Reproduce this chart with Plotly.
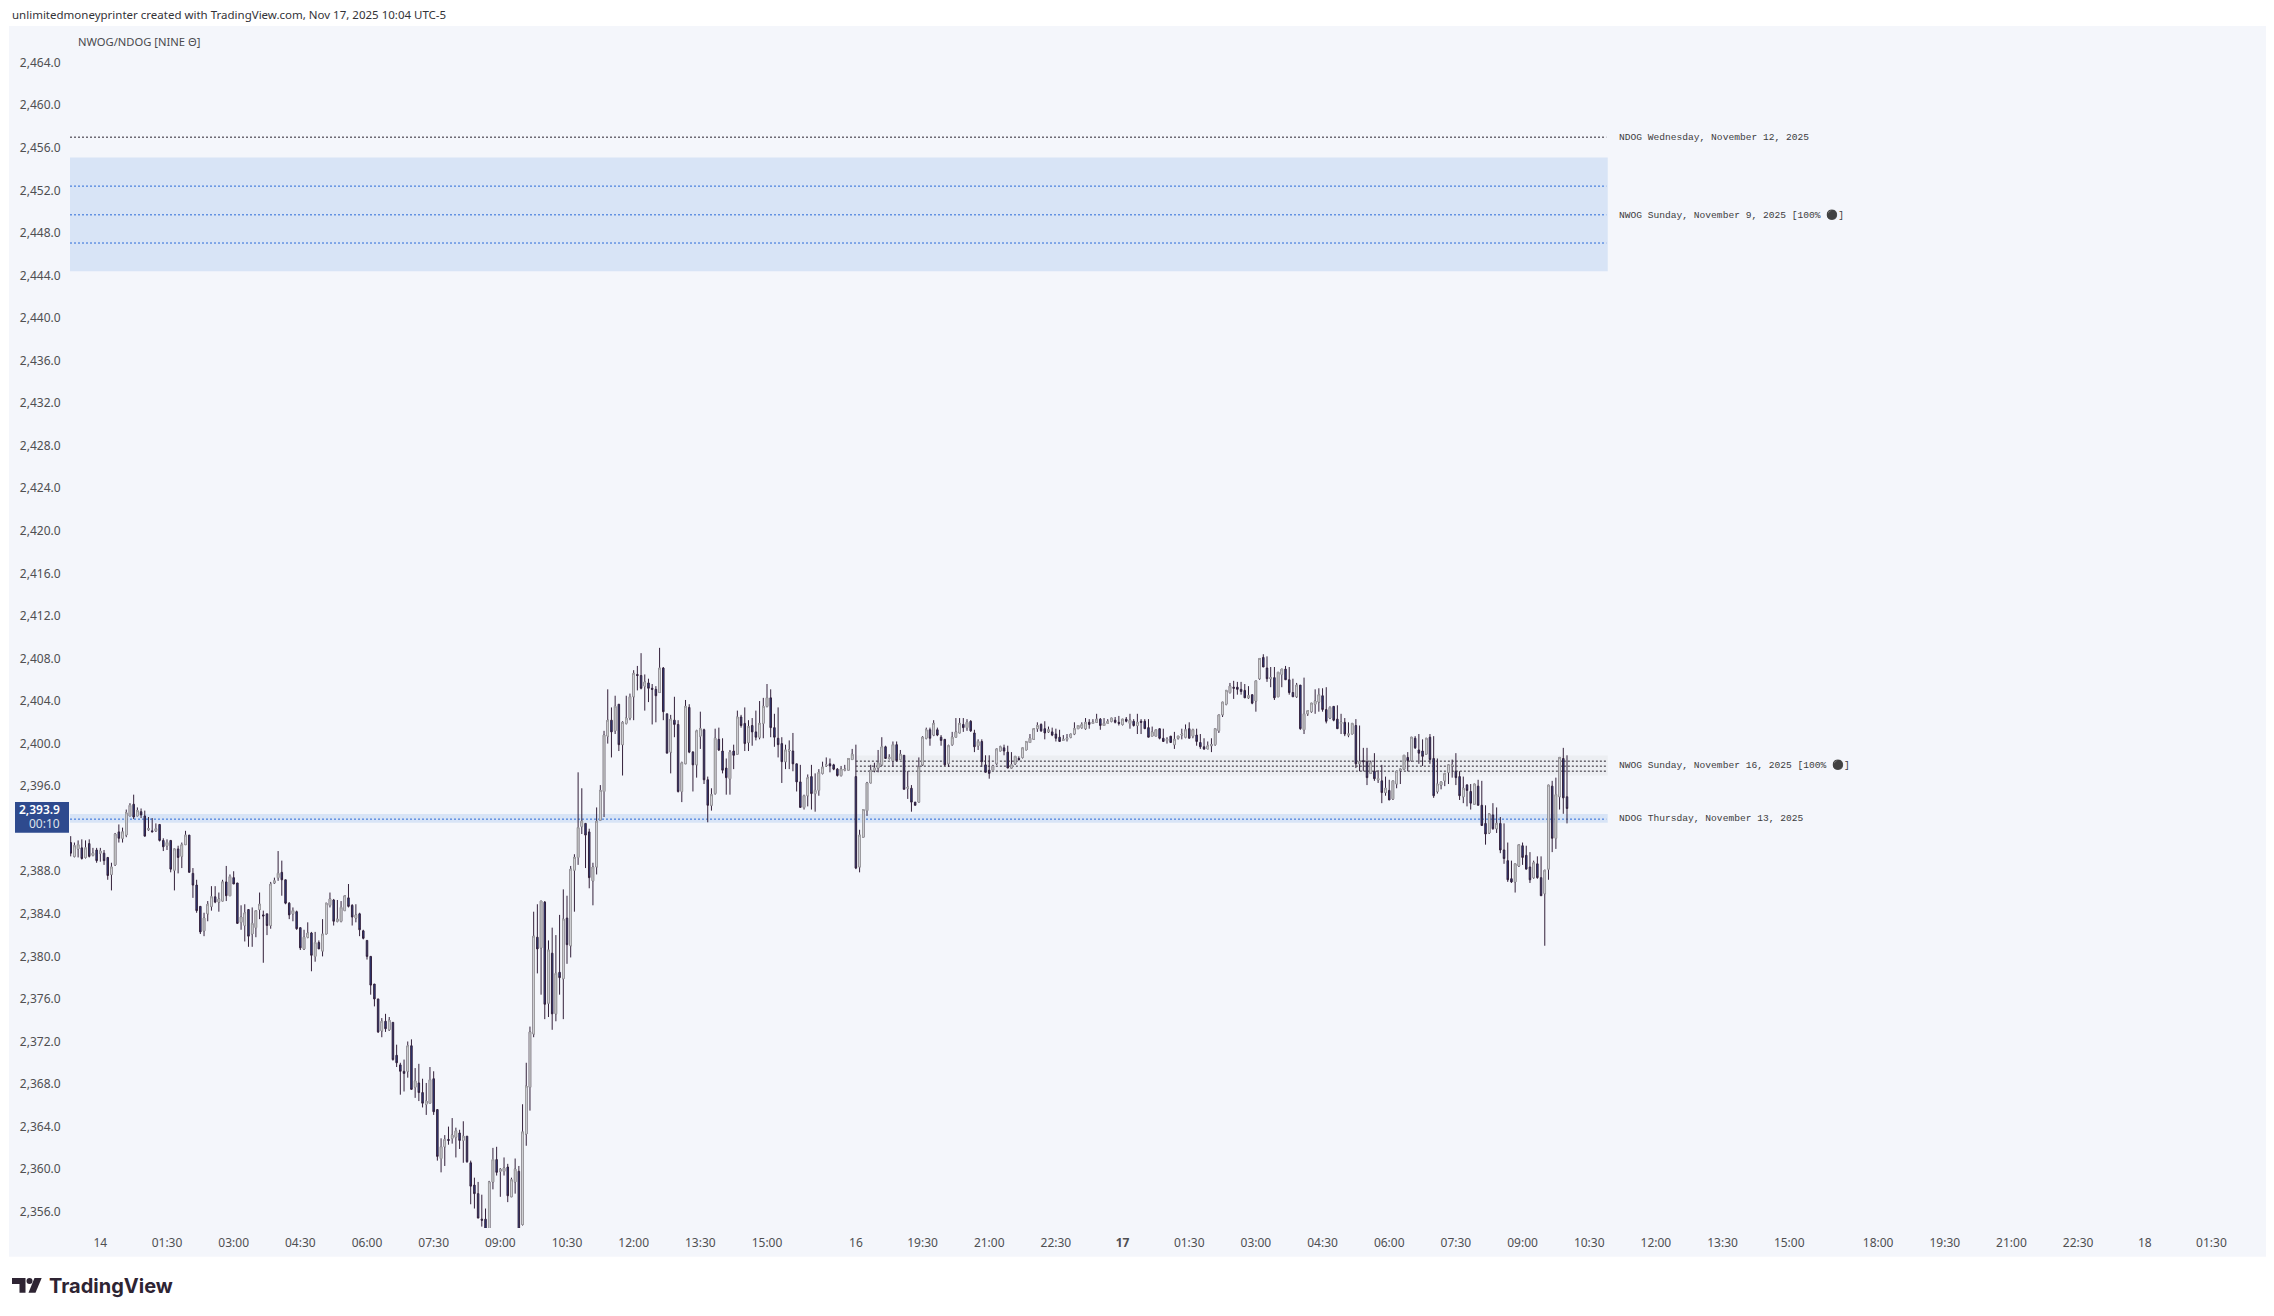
import plotly.graph_objects as go

# Five-minute session bars, Nov 13 late evening through Nov 17 10:00 (UTC-5)
opens = [
2390.7,2389.4,2390.1,2390.2,2389.3,2390.6,2389.5,2390.0,2389.7,2389.7,
2389.3,2387.7,2388.6,2391.7,2391.1,2391.4,2393.2,2394.3,2393.2,2393.6,
2393.2,2391.9,2391.8,2391.8,2392.4,2390.9,2390.4,2390.9,2388.1,2390.1,
2389.4,2390.5,2391.4,2387.8,2386.7,2384.7,2382.4,2384.0,2384.7,2385.6,
2385.1,2385.2,2387.0,2385.7,2387.4,2386.9,2383.2,2382.9,2384.4,2382.1,
2382.7,2384.4,2383.9,2384.0,2382.9,2386.9,2387.4,2387.9,2387.2,2385.0,
2384.0,2384.2,2382.7,2380.7,2381.8,2382.2,2380.0,2381.3,2380.5,2382.1,
2384.8,2385.3,2383.3,2383.3,2384.3,2385.5,2384.8,2383.6,2384.0,2382.4,
2381.5,2380.0,2377.4,2376.0,2373.0,2373.9,2373.1,2373.8,2370.7,2369.8,
2369.2,2369.2,2371.6,2367.7,2368.1,2367.2,2366.1,2366.2,2368.5,2365.6,
2361.0,2362.1,2362.8,2362.9,2363.0,2363.4,2362.7,2363.1,2360.6,2358.5,
2357.7,2355.3,2355.3,2354.3,2358.8,2360.9,2359.8,2359.8,2360.2,2357.4,
2358.8,2359.8,2354.8,2363.3,2367.7,2372.7,2381.8,2380.8,2385.1,2375.6,
2380.3,2374.6,2378.5,2377.9,2383.6,2381.0,2388.1,2389.3,2392.2,2392.5,
2391.7,2387.1,2388.4,2392.8,2395.5,2400.7,2402.2,2401.2,2403.7,2399.9,
2401.9,2402.4,2404.4,2406.5,2406.4,2405.4,2405.7,2405.2,2405.1,2404.8,
2407.1,2402.8,2399.2,2402.2,2401.8,2395.5,2398.1,2403.4,2399.2,2398.0,
2400.7,2401.3,2396.6,2394.2,2395.3,2400.4,2399.3,2397.7,2396.7,2399.3,
2399.0,2402.5,2401.9,2400.1,2401.7,2401.1,2400.6,2401.9,2403.5,2404.3,
2401.5,2400.5,2400.0,2398.3,2399.3,2399.3,2398.1,2396.4,2394.0,2395.1,
2396.9,2395.3,2395.6,2397.2,2397.9,2398.1,2398.0,2397.6,2397.0,2397.5,
2397.5,2398.5,2396.9,2388.4,2391.2,2393.7,2396.3,2397.5,2397.7,2398.0,
2399.7,2398.6,2398.4,2399.9,2398.5,2398.9,2395.8,2395.8,2394.5,2394.5,
2398.0,2400.5,2401.3,2400.8,2401.3,2400.6,2400.4,2398.1,2399.9,2400.6,
2401.0,2401.8,2401.5,2402.1,2401.0,2399.8,2400.2,2398.0,2397.5,2397.5,
2398.1,2399.3,2399.6,2399.2,2397.7,2398.1,2398.6,2398.7,2399.4,2400.1,
2400.4,2401.4,2401.8,2401.4,2401.1,2401.1,2400.9,2400.6,2400.3,2400.4,
2400.6,2400.9,2401.4,2401.5,2401.4,2402.0,2401.9,2402.0,2402.3,2401.7,
2401.9,2402.1,2402.2,2402.0,2401.8,2402.3,2401.9,2402.1,2401.7,2402.1,
2402.1,2401.5,2400.7,2400.7,2401.4,2400.5,2400.3,2400.7,2399.9,2400.5,
2400.8,2400.6,2401.4,2400.7,2400.8,2400.1,2399.7,2399.5,2399.8,2399.9,
2401.2,2402.7,2403.7,2404.8,2405.3,2405.3,2405.1,2405.0,2404.3,2404.6,
2404.0,2406.1,2408.1,2407.1,2406.1,2406.2,2404.4,2406.5,2407.0,2406.0,
2404.8,2404.4,2405.5,2401.3,2402.8,2403.0,2403.7,2403.9,2404.5,2403.2,
2402.4,2403.5,2402.3,2401.9,2402.0,2400.8,2400.9,2401.7,2398.1,2398.4,
2398.3,2397.2,2397.4,2396.6,2396.5,2395.4,2395.6,2394.8,2396.2,2397.5,
2397.6,2398.7,2398.4,2400.5,2399.4,2399.3,2399.0,2400.6,2398.6,2395.5,
2396.1,2396.5,2397.3,2397.9,2397.4,2396.9,2395.0,2396.1,2395.5,2394.3,
2396.0,2394.2,2392.5,2391.6,2393.3,2392.0,2392.5,2390.0,2389.0,2387.3,
2387.0,2388.5,2390.4,2389.5,2388.4,2387.4,2388.7,2387.4,2385.9,2388.2,
2396.0,2391.1,2395.0,2398.6,2395.0,
]
highs = [
2391.3,2390.7,2390.9,2391.0,2390.9,2391.0,2390.2,2390.2,2390.2,2390.0,
2389.3,2388.8,2391.6,2392.4,2392.1,2393.8,2394.4,2395.2,2394.0,2393.9,
2393.7,2393.1,2393.0,2392.5,2392.4,2391.1,2391.0,2390.9,2390.1,2390.4,
2390.7,2391.8,2391.4,2388.3,2387.2,2384.7,2384.1,2385.2,2386.6,2386.6,
2386.0,2387.2,2388.5,2387.7,2388.0,2386.9,2384.8,2384.9,2384.4,2384.6,
2384.3,2386.0,2384.3,2384.0,2387.0,2387.4,2389.9,2389.0,2387.2,2385.1,
2384.6,2384.3,2382.7,2382.5,2383.2,2382.3,2382.3,2381.5,2383.5,2385.0,
2386.0,2385.4,2385.3,2385.2,2385.7,2386.8,2384.9,2384.9,2384.1,2382.5,
2381.5,2380.0,2377.4,2376.0,2374.2,2374.6,2374.3,2373.8,2371.7,2370.0,
2370.3,2372.0,2372.2,2369.5,2369.9,2368.5,2368.1,2369.6,2369.2,2365.6,
2362.9,2363.2,2364.0,2364.8,2363.9,2363.7,2364.5,2363.1,2360.8,2359.2,
2358.8,2357.6,2356.3,2358.9,2362.0,2362.1,2360.1,2361.1,2360.5,2359.2,
2361.0,2360.3,2366.1,2370.0,2373.4,2384.2,2384.9,2385.2,2385.2,2381.5,
2382.7,2382.0,2383.9,2386.3,2385.7,2388.5,2389.6,2397.3,2395.8,2392.5,
2392.0,2388.8,2394.0,2396.1,2401.2,2405.1,2403.4,2404.5,2403.7,2402.1,
2404.5,2404.7,2406.9,2407.3,2408.5,2406.5,2406.1,2405.6,2405.4,2409.0,
2407.2,2402.8,2402.7,2404.4,2402.2,2398.3,2404.1,2403.7,2399.3,2401.3,
2403.0,2401.4,2396.9,2395.8,2401.4,2401.5,2400.5,2398.6,2399.4,2399.9,
2403.1,2402.7,2403.4,2402.2,2402.4,2403.1,2404.0,2404.3,2405.6,2405.1,
2402.8,2403.4,2400.6,2399.9,2400.3,2401.0,2398.1,2398.0,2395.2,2397.1,
2398.0,2397.2,2397.6,2398.3,2398.7,2398.6,2398.1,2397.7,2397.9,2398.0,
2398.6,2399.5,2399.9,2391.9,2393.8,2396.4,2398.0,2398.2,2399.4,2400.6,
2399.8,2399.0,2400.2,2400.2,2399.4,2398.9,2397.4,2396.1,2394.5,2398.7,
2400.7,2401.5,2401.5,2402.2,2401.5,2400.8,2400.4,2399.9,2401.1,2402.4,
2402.4,2402.4,2402.3,2402.2,2401.3,2400.4,2400.4,2398.9,2398.9,2398.0,
2399.2,2399.8,2399.9,2399.8,2399.2,2398.4,2398.8,2398.8,2399.7,2400.9,
2400.9,2402.0,2401.9,2402.1,2401.6,2401.5,2401.4,2401.3,2400.8,2400.9,
2400.9,2402.0,2401.7,2402.0,2402.4,2402.3,2402.3,2402.8,2402.4,2402.4,
2402.3,2402.3,2402.5,2402.6,2402.3,2402.5,2402.8,2402.3,2402.8,2402.3,
2402.3,2402.3,2401.6,2401.3,2401.3,2401.4,2400.6,2400.5,2401.1,2400.4,
2401.4,2401.8,2402.0,2401.4,2401.4,2400.9,2400.5,2400.2,2400.5,2400.5,
2401.5,2403.0,2404.4,2405.7,2405.9,2405.8,2405.8,2405.6,2405.4,2404.6,
2404.7,2406.4,2408.4,2408.2,2407.2,2407.2,2406.6,2406.8,2407.3,2407.2,
2406.1,2405.7,2405.5,2406.2,2402.8,2403.8,2405.1,2405.2,2405.2,2405.3,
2403.5,2403.5,2403.6,2402.8,2402.4,2402.0,2401.1,2402.3,2401.7,2399.6,
2399.6,2398.4,2399.1,2397.5,2398.0,2396.9,2396.6,2395.9,2396.7,2397.5,
2398.1,2399.2,2399.2,2400.7,2400.9,2400.4,2399.4,2400.9,2400.7,2398.6,
2396.2,2396.9,2397.7,2398.5,2399.1,2397.4,2396.9,2396.2,2396.2,2396.0,
2396.6,2396.5,2394.2,2392.9,2394.4,2394.0,2393.1,2392.5,2390.7,2389.0,
2387.3,2388.8,2390.7,2390.4,2389.8,2389.0,2389.4,2389.4,2387.4,2388.6,
2396.5,2396.8,2398.1,2399.6,2398.9,2397.9,
]
lows = [
2389.4,2389.3,2389.3,2389.1,2389.2,2389.3,2389.4,2388.8,2388.9,2388.6,
2387.2,2386.2,2388.5,2390.7,2390.7,2391.2,2393.2,2392.9,2393.2,2393.0,
2391.3,2391.8,2391.7,2391.7,2390.8,2389.9,2390.0,2387.9,2386.2,2387.8,
2388.3,2390.5,2387.9,2385.5,2384.1,2382.1,2381.9,2383.3,2384.3,2385.0,
2384.2,2385.2,2385.2,2385.7,2386.8,2383.1,2382.5,2381.4,2380.9,2380.9,
2381.8,2383.5,2379.4,2382.0,2382.6,2386.8,2387.1,2385.7,2384.9,2383.5,
2383.3,2382.5,2380.6,2380.6,2381.7,2378.6,2379.5,2380.7,2380.0,2382.1,
2384.6,2382.9,2383.2,2383.2,2384.3,2384.6,2382.9,2383.2,2381.9,2381.6,
2379.7,2376.4,2375.3,2372.8,2372.4,2372.9,2373.0,2370.2,2369.6,2367.0,
2367.3,2368.6,2367.5,2366.7,2366.4,2365.8,2365.1,2366.2,2365.1,2360.8,
2359.7,2360.3,2362.3,2362.4,2361.1,2361.9,2360.6,2360.6,2356.7,2356.3,
2355.4,2354.6,2353.8,2354.0,2358.1,2359.4,2357.4,2359.4,2356.9,2357.4,
2357.7,2354.0,2354.7,2362.2,2365.5,2372.4,2378.4,2376.4,2374.1,2374.3,
2373.1,2373.9,2376.4,2374.1,2379.3,2379.9,2384.2,2388.6,2391.5,2388.3,
2386.4,2384.8,2387.7,2392.8,2393.1,2400.0,2398.7,2400.9,2399.3,2397.0,
2401.8,2402.2,2402.2,2405.0,2405.1,2403.1,2403.9,2401.8,2402.0,2404.8,
2402.2,2399.1,2397.2,2400.6,2395.4,2394.5,2398.1,2399.1,2395.5,2396.8,
2399.5,2396.2,2392.6,2393.7,2395.2,2399.3,2397.2,2395.2,2395.2,2397.6,
2399.0,2401.5,2399.3,2399.3,2399.8,2400.3,2400.4,2400.5,2403.4,2400.6,
2399.7,2398.7,2396.3,2397.6,2397.6,2397.4,2395.5,2394.0,2393.8,2394.1,
2393.8,2393.6,2395.1,2397.1,2397.8,2397.3,2397.5,2396.9,2396.9,2397.4,
2397.5,2398.5,2388.2,2387.9,2391.2,2393.2,2396.3,2397.3,2397.3,2397.9,
2398.6,2398.5,2397.8,2398.3,2398.5,2395.7,2394.8,2393.6,2394.2,2394.5,
2397.9,2400.4,2399.8,2400.7,2400.7,2399.8,2397.9,2397.8,2399.8,2400.6,
2401.0,2401.1,2401.2,2401.1,2399.2,2399.4,2397.8,2397.3,2396.7,2397.5,
2398.0,2399.3,2398.9,2397.7,2397.7,2398.0,2398.4,2398.6,2399.4,2400.1,
2400.4,2401.1,2401.1,2400.4,2401.0,2400.7,2400.2,2400.2,2400.3,2400.2,
2400.5,2400.8,2401.4,2401.4,2401.3,2401.4,2401.9,2402.0,2401.3,2401.7,
2401.9,2402.0,2401.9,2401.7,2401.7,2402.0,2401.4,2401.6,2400.9,2400.9,
2401.4,2400.6,2400.7,2400.7,2400.4,2400.2,2400.0,2400.1,2399.5,2400.4,
2400.4,2400.5,2400.5,2400.5,2399.8,2399.5,2399.4,2399.5,2399.2,2399.8,
2401.0,2402.5,2403.6,2404.7,2404.2,2404.6,2404.6,2404.3,2404.2,2403.7,
2403.0,2406.0,2407.2,2405.8,2405.3,2404.1,2404.4,2405.3,2406.0,2404.6,
2404.4,2404.3,2401.3,2400.9,2402.6,2402.9,2402.8,2403.0,2403.0,2401.9,
2402.3,2402.1,2401.4,2400.9,2400.7,2400.6,2400.9,2397.7,2397.4,2397.4,
2396.1,2397.2,2396.5,2396.3,2394.4,2395.1,2394.7,2394.7,2395.8,2396.2,
2397.5,2397.4,2398.3,2399.5,2398.1,2397.9,2399.0,2398.1,2394.9,2395.3,
2395.7,2396.0,2396.2,2396.8,2396.1,2394.7,2394.4,2394.1,2393.8,2394.3,
2394.2,2392.3,2390.5,2391.5,2391.9,2391.6,2389.7,2388.7,2387.0,2386.9,
2386.0,2388.4,2388.6,2388.2,2386.9,2387.3,2387.3,2385.7,2381.0,2387.2,
2389.8,2390.1,2393.8,2393.4,2392.5,
]
closes = [
2389.7,2390.4,2390.5,2389.2,2390.2,2389.4,2389.7,2389.0,2389.9,2389.0,
2387.6,2388.4,2391.5,2391.1,2391.7,2393.5,2394.2,2393.1,2393.7,2393.3,
2391.3,2392.0,2391.7,2392.0,2390.9,2390.3,2390.7,2388.2,2390.1,2389.3,
2390.5,2391.4,2387.9,2386.7,2384.3,2382.3,2383.6,2384.9,2385.6,2385.1,
2385.4,2387.0,2385.7,2387.5,2386.8,2383.1,2383.7,2384.1,2381.9,2383.1,
2384.3,2384.9,2383.8,2382.9,2386.8,2387.1,2387.8,2387.2,2385.0,2383.9,
2384.3,2382.6,2380.8,2381.8,2382.2,2380.1,2381.3,2380.7,2382.1,2385.0,
2385.4,2383.3,2383.5,2384.6,2385.7,2384.7,2383.7,2383.9,2382.5,2381.7,
2380.0,2377.3,2376.0,2372.9,2373.9,2373.2,2374.0,2370.3,2370.0,2369.2,
2369.0,2371.6,2367.5,2368.3,2367.2,2366.2,2366.4,2368.4,2365.4,2361.2,
2362.1,2362.8,2362.7,2363.2,2363.6,2362.7,2363.1,2360.7,2358.4,2357.7,
2355.4,2355.2,2354.0,2358.8,2360.9,2359.7,2360.0,2360.1,2357.5,2359.0,
2360.0,2354.3,2363.5,2367.8,2372.9,2381.9,2380.7,2385.2,2375.5,2380.6,
2374.6,2378.4,2378.0,2383.5,2381.1,2388.2,2389.3,2392.1,2392.7,2391.4,
2387.4,2388.4,2392.7,2395.6,2400.8,2402.2,2401.1,2403.5,2399.9,2402.0,
2402.4,2404.4,2406.6,2406.4,2405.2,2405.8,2405.2,2405.1,2404.5,2407.1,
2403.0,2399.1,2402.3,2401.8,2395.5,2398.2,2403.5,2399.2,2398.0,2401.2,
2401.4,2396.6,2394.2,2395.2,2400.5,2399.4,2397.5,2396.8,2399.2,2398.9,
2402.5,2401.7,2400.0,2401.6,2401.1,2400.6,2401.9,2403.5,2404.3,2401.5,
2400.6,2399.9,2398.3,2399.4,2399.4,2398.1,2396.4,2394.0,2395.1,2396.8,
2395.3,2395.6,2397.3,2397.8,2398.0,2397.9,2397.6,2397.0,2397.6,2397.6,
2398.6,2399.0,2388.3,2391.4,2393.8,2396.3,2397.5,2397.7,2398.2,2399.7,
2398.6,2398.7,2399.9,2398.4,2399.0,2395.7,2395.9,2394.5,2394.2,2397.8,
2400.6,2401.3,2400.5,2401.9,2400.8,2400.3,2398.0,2399.8,2400.6,2401.1,
2401.9,2401.5,2402.0,2401.2,2399.7,2400.2,2398.3,2397.3,2397.2,2397.9,
2399.5,2399.7,2399.3,2397.7,2398.0,2398.8,2398.5,2399.6,2400.2,2400.5,
2401.4,2401.7,2401.2,2401.0,2401.3,2400.8,2400.5,2400.2,2400.4,2400.5,
2400.9,2401.4,2401.7,2401.8,2402.0,2401.8,2402.0,2402.3,2401.7,2401.9,
2402.1,2402.4,2402.0,2401.9,2402.3,2402.1,2402.2,2401.7,2402.0,2402.0,
2401.4,2400.6,2401.1,2401.3,2400.5,2400.2,2400.4,2400.1,2400.4,2400.7,
2400.9,2401.3,2400.5,2401.3,2400.2,2399.7,2399.5,2399.8,2399.9,2401.4,
2402.7,2403.9,2405.0,2405.4,2405.2,2405.1,2404.9,2404.3,2404.5,2403.8,
2405.9,2408.0,2407.2,2406.1,2406.2,2404.3,2406.7,2407.0,2406.0,2404.8,
2404.4,2405.5,2401.4,2402.8,2403.1,2403.8,2404.0,2404.6,2403.2,2402.1,
2403.4,2402.2,2401.4,2402.0,2400.9,2400.9,2401.9,2398.1,2398.3,2398.3,
2396.8,2398.2,2396.7,2396.7,2395.4,2395.8,2394.7,2396.5,2397.4,2397.6,
2398.9,2398.4,2400.6,2399.6,2399.1,2398.8,2400.5,2398.5,2395.1,2396.2,
2396.4,2397.2,2398.0,2398.0,2396.8,2395.1,2395.8,2395.6,2394.4,2396.2,
2394.2,2392.3,2391.5,2393.4,2392.0,2392.5,2390.0,2389.2,2387.2,2387.0,
2388.7,2390.5,2389.3,2388.2,2387.2,2388.8,2387.4,2385.7,2388.1,2396.1,
2391.1,2395.2,2398.7,2394.9,2393.9,
]

# Time-axis labels and the bar numbers they sit on
time_tick_bars = [8, 26, 44, 62, 80, 98, 116, 134, 152, 170, 188, 212, 230, 248, 266,
                  284, 302, 320, 338, 356, 374, 392, 410, 428, 446, 464, 488, 506, 524,
                  542, 560, 578]
time_tick_text = ["14", "01:30", "03:00", "04:30", "06:00", "07:30", "09:00", "10:30",
                  "12:00", "13:30", "15:00", "16", "19:30", "21:00", "22:30", "<b>17</b>",
                  "01:30", "03:00", "04:30", "06:00", "07:30", "09:00", "10:30", "12:00",
                  "13:30", "15:00", "18:00", "19:30", "21:00", "22:30", "18", "01:30"]
# The 2,392 label sits behind the last-price tag, so it is left out of the scale
price_ticks = [p for p in range(2356, 2465, 4) if p != 2392]

# Opening gaps: bottom, three levels, top, name
gap_bottoms = [2457.0, 2444.4, 2397.0, 2392.57]
gap_tops = [2457.0, 2455.1, 2398.87, 2393.39]
gap_levels = [[2457.0], [2447.05, 2449.7, 2452.4], [2397.41, 2397.88, 2398.35], [2392.9]]
gap_label_levels = [2457.0, 2449.7, 2398.0, 2393.0]
gap_labels = ["NDOG Wednesday, November 12, 2025",
              "NWOG Sunday, November 9, 2025 [100% ⚫]",
              "NWOG Sunday, November 16, 2025 [100% ⚫]",
              "NDOG Thursday, November 13, 2025"]
gap_first_bar = [None, None, 212, None]
gap_fill = [None, "#d8e4f6", "#eceef2", "#d8e4f6"]
gap_line = ["#2a2430", "#2a6ad8", "#241e2a", "#2a6ad8"]
last_price = closes[-1]
countdown = "00:10"

W, H = 2274, 1316
L, R, T, B = 70, 2266, 26, 1228
PX_PER_BAR = 3.7037
PX_PER_PT = 10.639
x_lo = -0.19
x_hi = x_lo + (R - L) / PX_PER_BAR
y_hi = 2464 + (62.7 - T) / PX_PER_PT
y_lo = 2464 - (B - 62.7) / PX_PER_PT
GAP_END_BAR = 415
LABEL_BAR = 417.4

PANEL = "#f4f6fb"
WICK = "#33203a"
DOWN_FILL = "#283f8c"
UP_EDGE = "#a0a0a2"
TICK_COLOR = "#4f4f52"


def fx(px):
    return (px - L) / (R - L)


def fy(py):
    return (B - py) / (B - T)


bars = list(range(len(opens)))
up = [i for i in bars if closes[i] >= opens[i]]

fig = go.Figure()
# Wicks plus every body; rising bodies are re-edged in grey by the next trace
fig.add_trace(go.Candlestick(
    x=bars, open=opens, high=highs, low=lows, close=closes,
    increasing=dict(line=dict(color=WICK, width=1), fillcolor=PANEL),
    decreasing=dict(line=dict(color=WICK, width=1), fillcolor=DOWN_FILL),
    whiskerwidth=0, hoverinfo="skip", showlegend=False))
fig.add_trace(go.Candlestick(
    x=up,
    open=[opens[i] for i in up], high=[closes[i] for i in up],
    low=[opens[i] for i in up], close=[closes[i] for i in up],
    increasing=dict(line=dict(color=UP_EDGE, width=1), fillcolor=PANEL),
    whiskerwidth=0, hoverinfo="skip", showlegend=False))

shapes = [dict(type="rect", xref="paper", yref="paper", layer="below",
               x0=fx(9), x1=fx(R), y0=fy(1256.7), y1=fy(T),
               fillcolor=PANEL, line_width=0)]
annotations = []

for k, name in enumerate(gap_labels):
    start = gap_first_bar[k] if gap_first_bar[k] is not None else x_lo
    if gap_fill[k]:
        shapes.append(dict(type="rect", xref="x", yref="y", layer="below",
                           x0=start, x1=GAP_END_BAR, y0=gap_bottoms[k], y1=gap_tops[k],
                           fillcolor=gap_fill[k], line_width=0))
    for level in gap_levels[k]:
        shapes.append(dict(type="line", xref="x", yref="y", layer="below",
                           x0=start, x1=GAP_END_BAR - 0.4, y0=level, y1=level,
                           line=dict(color=gap_line[k], width=1, dash="2px,2px")))
    annotations.append(dict(xref="x", yref="y", x=LABEL_BAR, y=gap_label_levels[k], text=name,
                            showarrow=False, xanchor="left", yanchor="middle",
                            font=dict(family="Liberation Mono", size=9.6, color="#3c3c40")))

# Last-price tag on the price scale
shapes.append(dict(type="rect", xref="paper", yref="paper", layer="above",
                   x0=fx(15), x1=fx(69), y0=fy(832.7), y1=fy(802),
                   fillcolor="#2e4a8e", line_width=0))
annotations.append(dict(xref="paper", yref="paper", x=fx(62), y=fy(809.3), text=f"{last_price:,.1f}",
                        showarrow=False, xanchor="right", yanchor="middle",
                        font=dict(family="Noto Sans", size=12, color="#ffffff", weight=600)))
annotations.append(dict(xref="paper", yref="paper", x=fx(62), y=fy(823.7), text=countdown,
                        showarrow=False, xanchor="right", yanchor="middle",
                        font=dict(family="Noto Sans", size=12, color="#dfe3ea")))

# Header lines
annotations.append(dict(xref="paper", yref="paper", x=fx(9.5), y=fy(14.5),
                        text="unlimitedmoneyprinter created with TradingView.com, Nov 17, 2025 10:04 UTC-5",
                        showarrow=False, xanchor="left", yanchor="middle",
                        font=dict(family="Noto Sans", size=11.5, color="#333338")))
annotations.append(dict(xref="paper", yref="paper", x=fx(76), y=fy(42),
                        text="NWOG/NDOG [NINE Θ]", showarrow=False, xanchor="left", yanchor="middle",
                        font=dict(family="Noto Sans", size=11.2, color="#4a4a4e")))

# Brand mark and wordmark
def mark_path(points):
    return "M" + " L".join(f"{fx(a):.5f},{fy(b):.5f}" for a, b in points) + " Z"

LOGO = "#2e2433"
shapes.append(dict(type="path", xref="paper", yref="paper", layer="above", line_width=0, fillcolor=LOGO,
                   path=mark_path([(12, 1278), (25.5, 1278), (25.5, 1292.7), (19.5, 1292.7),
                                   (19.5, 1284), (12, 1284)])))
shapes.append(dict(type="circle", xref="paper", yref="paper", layer="above", line_width=0, fillcolor=LOGO,
                   x0=fx(26.5), x1=fx(32.5), y0=fy(1284), y1=fy(1278)))
shapes.append(dict(type="path", xref="paper", yref="paper", layer="above", line_width=0, fillcolor=LOGO,
                   path=mark_path([(34.5, 1278), (41.7, 1278), (35.5, 1292.7), (28.5, 1292.7)])))
annotations.append(dict(xref="paper", yref="paper", x=fx(47), y=fy(1285.5), text="TradingView",
                        showarrow=False, xanchor="left", yanchor="middle",
                        font=dict(family="Inter", size=20, color=LOGO, weight=700)))

fig.update_layout(
    width=W, height=H, autosize=False,
    margin=dict(l=L, r=W - R, t=T, b=H - B, pad=0),
    paper_bgcolor="#ffffff", plot_bgcolor=PANEL,
    showlegend=False, boxgap=0.42,
    shapes=shapes, annotations=annotations,
    font=dict(family="Noto Sans", size=12, color=TICK_COLOR),
    xaxis=dict(range=[x_lo, x_hi], type="linear", showgrid=False, zeroline=False, showline=False,
               rangeslider=dict(visible=False), tickmode="array",
               tickvals=time_tick_bars, ticktext=time_tick_text,
               ticks="outside", ticklen=4, tickcolor="rgba(0,0,0,0)",
               tickfont=dict(family="Noto Sans", size=12, color=TICK_COLOR)),
    yaxis=dict(range=[y_lo, y_hi], showgrid=False, zeroline=False, showline=False,
               tickmode="array", tickvals=price_ticks, tickformat=",.1f",
               ticks="outside", ticklen=6, tickcolor="rgba(0,0,0,0)",
               tickfont=dict(family="Noto Sans", size=12, color=TICK_COLOR)),
)

fig.write_html("out.html")
